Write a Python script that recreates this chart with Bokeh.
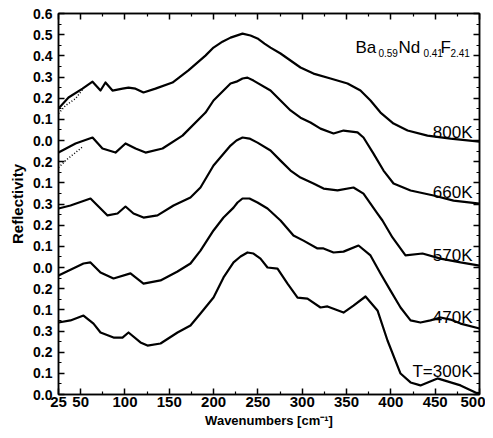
from bokeh.plotting import figure
from bokeh.models import FixedTicker, LinearAxis, Label, Range1d, CustomJSTickFormatter
from bokeh.embed import file_html
from bokeh.resources import INLINE

# ---- data (stacked reflectivity, plot units) ----
wn_800 = [25.0, 36.3, 52.1, 63.4, 72.4, 78.0, 85.9, 97.2, 104.0, 111.9, 120.9, 134.4, 153.6, 171.6,
          190.8, 199.9, 210.0, 219.1, 232.6, 241.6, 249.5, 257.4, 264.2, 275.5, 298.0, 312.7, 331.9,
          351.1, 365.7, 377.0, 388.3, 403.0, 418.8, 441.3, 467.3, 500.0]
r_800 = [1.351, 1.403, 1.445, 1.478, 1.436, 1.474, 1.436, 1.445, 1.450, 1.445, 1.427, 1.445, 1.474, 1.531,
         1.601, 1.639, 1.667, 1.686, 1.705, 1.696, 1.682, 1.658, 1.639, 1.611, 1.545, 1.516, 1.493,
         1.469, 1.436, 1.389, 1.332, 1.280, 1.247, 1.223, 1.209, 1.195]

wn_660 = [25.0, 44.2, 63.4, 74.6, 89.3, 100.6, 111.9, 123.2, 142.4, 164.9, 190.9, 199.9, 219.1, 225.8,
          232.6, 238.2, 245.0, 264.2, 275.5, 286.8, 298.0, 309.3, 320.6, 335.3, 346.6, 362.4, 369.1,
          380.4, 391.7, 403.0, 422.2, 448.2, 470.7, 500.0]
r_660 = [1.143, 1.186, 1.214, 1.162, 1.143, 1.186, 1.162, 1.143, 1.162, 1.223, 1.332, 1.389, 1.469, 1.478,
         1.493, 1.497, 1.483, 1.436, 1.389, 1.342, 1.308, 1.285, 1.256, 1.233, 1.247, 1.238, 1.214,
         1.138, 1.058, 0.997, 0.964, 0.940, 0.916, 0.902]

wn_570 = [25.0, 38.5, 61.1, 72.4, 80.3, 91.6, 100.6, 109.6, 120.9, 136.7, 154.8, 173.9, 185.2, 199.9,
          219.1, 225.8, 232.6, 240.5, 249.5, 264.2, 275.5, 286.8, 298.0, 312.7, 324.0, 339.8, 357.8,
          369.1, 384.9, 390.5, 401.8, 416.5, 435.7, 456.0, 478.6, 500.0]
r_570 = [0.879, 0.893, 0.926, 0.879, 0.846, 0.855, 0.888, 0.855, 0.836, 0.846, 0.893, 0.931, 0.978, 1.082,
         1.176, 1.200, 1.214, 1.209, 1.190, 1.153, 1.105, 1.058, 1.025, 0.997, 0.973, 0.964, 0.978,
         0.949, 0.855, 0.822, 0.742, 0.657, 0.666, 0.642, 0.624, 0.609]

wn_470 = [25.0, 53.2, 61.1, 72.4, 87.1, 106.2, 120.9, 140.1, 159.3, 173.9, 185.2, 199.9, 211.2, 222.5,
          227.0, 232.6, 240.5, 249.5, 260.8, 275.5, 290.1, 301.4, 317.2, 324.0, 335.3, 346.6, 363.5,
          377.0, 388.3, 399.6, 410.9, 422.2, 433.4, 444.7, 456.0, 467.3, 478.6, 500.0]
r_470 = [0.562, 0.619, 0.624, 0.576, 0.548, 0.572, 0.524, 0.539, 0.581, 0.619, 0.680, 0.775, 0.836, 0.883,
         0.907, 0.926, 0.926, 0.907, 0.879, 0.822, 0.751, 0.727, 0.690, 0.690, 0.671, 0.675, 0.704,
         0.657, 0.572, 0.491, 0.411, 0.350, 0.340, 0.350, 0.364, 0.354, 0.335, 0.312]

wn_300 = [25.0, 38.5, 53.2, 64.5, 72.4, 87.1, 97.2, 104.0, 117.5, 125.4, 140.1, 159.3, 173.9, 185.2,
          199.9, 211.2, 222.5, 230.4, 238.2, 245.0, 252.9, 260.8, 272.1, 283.4, 294.7, 305.9, 320.6,
          328.5, 346.6, 357.8, 371.4, 384.9, 396.2, 410.9, 422.2, 433.4, 452.6, 478.6, 495.5, 500.0]
r_300 = [0.340, 0.350, 0.373, 0.335, 0.293, 0.269, 0.269, 0.293, 0.246, 0.231, 0.241, 0.293, 0.326, 0.383,
         0.458, 0.553, 0.624, 0.652, 0.671, 0.666, 0.642, 0.600, 0.595, 0.524, 0.458, 0.453, 0.411,
         0.416, 0.387, 0.420, 0.463, 0.397, 0.255, 0.099, 0.057, 0.043, 0.076, 0.043, 0.009, 0.005]

# dotted model fits (visible where they depart from the data, low-frequency edge)
fit_wn_800 = [25.0, 32.9, 44.2, 52.1]
fit_r_800 = [1.327, 1.365, 1.398, 1.440]
fit_wn_660 = [25.0, 32.9, 44.2, 52.1]
fit_r_660 = [1.072, 1.105, 1.143, 1.170]

temps = ["800K", "660K", "570K", "470K", "T=300K"]
label_dy = [9, 11, 10, 11, 22]

y_tick_values = [round(i * 0.1, 1) for i in range(19)]
y_tick_labels = ["0.0", "0.1", "0.2", "0.3", "0.1", "0.2", "0.0", "0.1", "0.2", "0.3",
                 "0.1", "0.2", "0.0", "0.1", "0.2", "0.3", "0.4", "0.5", "0.6"]
x_tick_values = [25, 50, 100, 150, 200, 250, 300, 350, 400, 450, 500]
x_minor_values = [75, 125, 175, 225, 275, 325, 375, 425, 475]

FONT = "Liberation Sans"

p = figure(width=485, height=432, x_range=Range1d(25, 500), y_range=Range1d(0, 1.8),
           output_backend="svg", toolbar_location=None,
           min_border_left=58, min_border_right=6, min_border_top=13, min_border_bottom=38)
p.grid.visible = False
p.outline_line_color = "black"
p.outline_line_width = 1.5
p.background_fill_color = "white"
p.border_fill_color = "white"

yfmt = CustomJSTickFormatter(args=dict(labels=y_tick_labels),
                             code="return labels[Math.round(tick*10)];")
blank = CustomJSTickFormatter(code="return '';")

def style_axis(ax, show_labels):
    ax.axis_line_color = "black"
    ax.axis_line_width = 1.5
    ax.major_tick_line_color = "black"
    ax.minor_tick_line_color = "black"
    ax.major_tick_line_width = 1.5
    ax.minor_tick_line_width = 1.2
    ax.major_tick_in = 6
    ax.major_tick_out = 0
    ax.minor_tick_in = 3
    ax.minor_tick_out = 0
    ax.major_label_text_font = FONT
    ax.major_label_text_font_style = "bold"
    ax.major_label_text_color = "black"
    if not show_labels:
        ax.formatter = blank
        ax.major_label_standoff = 0

xt = FixedTicker(ticks=x_tick_values, minor_ticks=x_minor_values)
ytk = FixedTicker(ticks=y_tick_values,
                  minor_ticks=[round(0.05 + i * 0.1, 2) for i in range(18)])

p.xaxis.ticker = xt
p.yaxis.ticker = ytk
p.yaxis.formatter = yfmt
style_axis(p.xaxis[0], True)
style_axis(p.yaxis[0], True)
p.xaxis.major_label_text_font_size = "15px"
p.xaxis.major_label_standoff = 2
p.yaxis.major_label_text_font_size = "14px"
p.yaxis.major_label_standoff = 6
p.xaxis.axis_label = "Wavenumbers [cm⁻¹]"
p.yaxis.axis_label = "Reflectivity"
for ax in (p.xaxis[0], p.yaxis[0]):
    ax.axis_label_text_font = FONT
    ax.axis_label_text_font_style = "bold"
    ax.axis_label_text_color = "black"
p.xaxis.axis_label_text_font_size = "13px"
p.yaxis.axis_label_text_font_size = "15px"
p.xaxis.axis_label_standoff = 3
p.yaxis.axis_label_standoff = 4

top = LinearAxis(ticker=xt)
style_axis(top, False)
p.add_layout(top, "above")
right = LinearAxis(ticker=ytk)
style_axis(right, False)
p.add_layout(right, "right")

series = [(wn_800, r_800), (wn_660, r_660), (wn_570, r_570), (wn_470, r_470), (wn_300, r_300)]
for wn, r in series:
    p.line(wn, r, line_color="black", line_width=2.2, line_join="round")

for wn, r in [(fit_wn_800, fit_r_800), (fit_wn_660, fit_r_660)]:
    p.line(wn, r, line_color="black", line_width=1.5, line_dash="1 2")

for (wn, r), t, dy in zip(series, temps, label_dy):
    p.add_layout(Label(x=wn[-1], y=r[-1], x_offset=-7, y_offset=dy, text=t,
                       text_align="right", text_baseline="alphabetic",
                       text_font=FONT, text_font_size="17px", text_color="black"))

# compound formula Ba0.59Nd0.41F2.41
parts = [("Ba", False), ("0.59", True), ("Nd", False), ("0.41", True), ("F", False), ("2.41", True)]
offs = [0, 23, 43, 68, 85, 95]
for (txt, sub), dx in zip(parts, offs):
    p.add_layout(Label(x=360, y=1.639, x_offset=dx, y_offset=-5 if sub else 0, text=txt,
                       text_align="left", text_baseline="alphabetic", text_font=FONT,
                       text_font_size="10px" if sub else "17px", text_color="black"))

open("out.html", "w").write(file_html(p, INLINE))
